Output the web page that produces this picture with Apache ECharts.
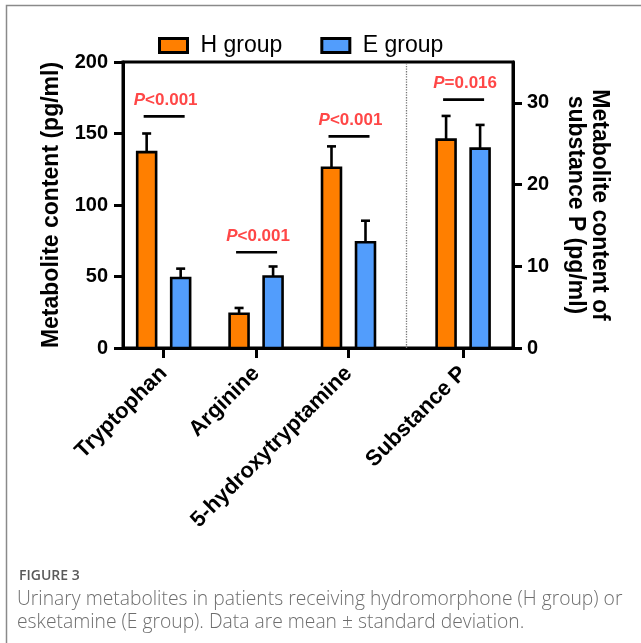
<!DOCTYPE html>
<html>
<head>
<meta charset="utf-8">
<script src="https://cdn.jsdelivr.net/npm/echarts@6/dist/echarts.min.js"></script>
<style>
  html, body { margin: 0; padding: 0; background: #fff; }
  #main { width: 641px; height: 643px; }
</style>
</head>
<body>
<div id="main"></div>
<script>
// data
const categories = ['Tryptophan', 'Arginine', '5-hydroxytryptamine', 'Substance P'];
const hMean = [137, 24, 126, 25.5];
const hSd = [13, 4, 15, 2.9];
const eMean = [49, 50, 74, 24.4];
const eSd = [6.5, 7, 15, 2.9];
const pText = ['<0.001', '<0.001', '<0.001', '=0.016'];
const pLevel = [162, 67, 148, 30.4];      // height of the significance bar
const leftTicks = [0, 50, 100, 150, 200];
const rightTicks = [0, 10, 20, 30];

// layout: where each group sits on the hidden x scale, and which y axis it uses
const groupX = [0.44, 1.44, 2.44, 3.68];
const sepX = 3.06;
const axisOf = [0, 0, 0, 1];

const ORANGE = '#ff7f00';
const BLUE = '#529dfc';
const RED = '#ff4747';
const FONT = 'Arial, "Liberation Sans", sans-serif';

let myChart = echarts.init(document.getElementById('main'));

function barItem(offset) {
  return function (params, api) {
    let x = api.value(0), v = api.value(1), sd = api.value(2);
    let unit = api.size([1, 0])[0];
    let p0 = api.coord([x, 0]);
    let cx = p0[0] + offset * unit;
    let top = api.coord([x, v])[1];
    let errTop = api.coord([x, v + sd])[1];
    let w = 0.205 * unit;
    let lineStyle = { stroke: '#000', lineWidth: 2.6 };
    return {
      type: 'group',
      children: [
        { type: 'line', shape: { x1: cx, y1: top, x2: cx, y2: errTop }, style: lineStyle },
        { type: 'line', shape: { x1: cx - 4.5, y1: errTop, x2: cx + 4.5, y2: errTop }, style: lineStyle },
        { type: 'rect', shape: { x: cx - w / 2, y: top, width: w, height: p0[1] - top },
          style: { fill: api.visual('color'), stroke: '#000', lineWidth: 2.6 } }
      ]
    };
  };
}

function pItem(params, api) {
  let x = api.value(0), lvl = api.value(1);
  let p = api.coord([x, lvl]);
  return {
    type: 'group',
    children: [
      { type: 'line', shape: { x1: p[0] - 20, y1: p[1], x2: p[0] + 21, y2: p[1] },
        style: { stroke: '#000', lineWidth: 2.6 } },
      { type: 'text', x: p[0] + 2, y: p[1] - 16,
        style: {
          text: '{i|P}{n|' + pText[api.value(2)] + '}',
          align: 'center', verticalAlign: 'middle',
          rich: {
            i: { fontStyle: 'italic', fontWeight: 'bold', fontSize: 17, fill: RED, fontFamily: FONT },
            n: { fontWeight: 'bold', fontSize: 17, fill: RED, fontFamily: FONT }
          }
        } }
    ]
  };
}

function pick(axis) {
  return categories.map((c, i) => i).filter(i => axisOf[i] === axis);
}

let series = [];
[0, 1].forEach(ax => {
  let idx = pick(ax);
  series.push({
    name: 'H group', type: 'custom', yAxisIndex: ax, clip: false,
    itemStyle: { color: ORANGE },
    renderItem: barItem(-0.184),
    data: idx.map(i => [groupX[i], hMean[i], hSd[i]]),
    markLine: ax === 0 ? {
      silent: true, symbol: 'none', label: { show: false },
      lineStyle: { type: 'dotted', color: '#777', width: 1.3 },
      data: [{ xAxis: sepX }]
    } : undefined
  });
  series.push({
    name: 'E group', type: 'custom', yAxisIndex: ax, clip: false,
    itemStyle: { color: BLUE },
    renderItem: barItem(0.184),
    data: idx.map(i => [groupX[i], eMean[i], eSd[i]])
  });
  series.push({
    name: 'p', type: 'custom', yAxisIndex: ax, clip: false, silent: true,
    renderItem: pItem,
    data: idx.map(i => [groupX[i], pLevel[i], i])
  });
});

myChart.setOption({
  animation: false,
  textStyle: { fontFamily: FONT },
  legend: {
    left: 153, top: 29,
    itemWidth: 28, itemHeight: 14, itemGap: 38,
    textStyle: { fontSize: 23, color: '#000', fontFamily: FONT, padding: [0, 0, 0, 8] },
    data: [
      { name: 'H group', icon: 'rect', itemStyle: { color: ORANGE, borderColor: '#000', borderWidth: 3 } },
      { name: 'E group', icon: 'rect', itemStyle: { color: BLUE, borderColor: '#000', borderWidth: 3 } }
    ]
  },
  grid: {
    left: 123, right: 128, top: 62, bottom: 295,
    show: true, borderColor: '#000', borderWidth: 3
  },
  xAxis: {
    type: 'value', min: 0, max: 4.22,
    splitLine: { show: false },
    axisLine: { show: true, lineStyle: { color: '#000', width: 3 } },
    axisTick: { show: true, customValues: groupX, length: 10, lineStyle: { color: '#000', width: 3 } },
    axisLabel: {
      customValues: groupX, rotate: 45, margin: 22,
      fontSize: 22, fontWeight: 'bold', color: '#000', fontFamily: FONT,
      formatter: v => categories[groupX.indexOf(v)]
    }
  },
  yAxis: [
    {
      type: 'value', min: 0, max: 200, interval: 50, position: 'left',
      name: 'Metabolite content (pg/ml)', nameLocation: 'middle', nameGap: 60, nameRotate: 90,
      nameTextStyle: { fontSize: 23, fontWeight: 'bold', color: '#000', fontFamily: FONT },
      splitLine: { show: false },
      axisLine: { show: true, lineStyle: { color: '#000', width: 3 } },
      axisTick: { show: true, length: 9, lineStyle: { color: '#000', width: 3 } },
      axisLabel: { fontSize: 20, fontWeight: 'bold', color: '#000', margin: 15, fontFamily: FONT,
        customValues: leftTicks }
    },
    {
      type: 'value', min: 0, max: 35, position: 'right',
      name: 'Metabolite content of\nsubstance P (pg/ml)', nameLocation: 'middle', nameGap: 50, nameRotate: -90,
      nameTextStyle: { fontSize: 23, fontWeight: 'bold', color: '#000', fontFamily: FONT, lineHeight: 24 },
      splitLine: { show: false },
      axisLine: { show: true, lineStyle: { color: '#000', width: 3 } },
      axisTick: { show: true, length: 9, customValues: rightTicks, lineStyle: { color: '#000', width: 3 } },
      axisLabel: { fontSize: 20, fontWeight: 'bold', color: '#000', margin: 14, fontFamily: FONT,
        customValues: rightTicks }
    }
  ],
  graphic: [
    { type: 'polyline', silent: true,
      shape: { points: [[6.5, 643], [6.5, 5.5], [641, 5.5]] },
      style: { stroke: '#8a8a8a', lineWidth: 1.5, fill: null } },
    { type: 'text', left: 19, top: 569,
      style: { text: 'FIGURE 3', fill: '#5a5a5a', fontSize: 14, fontWeight: 600, fontFamily: '"Open Sans", sans-serif' } },
    { type: 'text', left: 17, top: 588,
      style: {
        text: 'Urinary metabolites in patients receiving hydromorphone (H group) or\nesketamine (E group). Data are mean \u00b1 standard deviation.',
        fill: '#6e6e6e', fontSize: 19.3, lineHeight: 23, fontWeight: 300, fontFamily: '"Open Sans", sans-serif'
      } }
  ],
  series: series
});
</script>
</body>
</html>
